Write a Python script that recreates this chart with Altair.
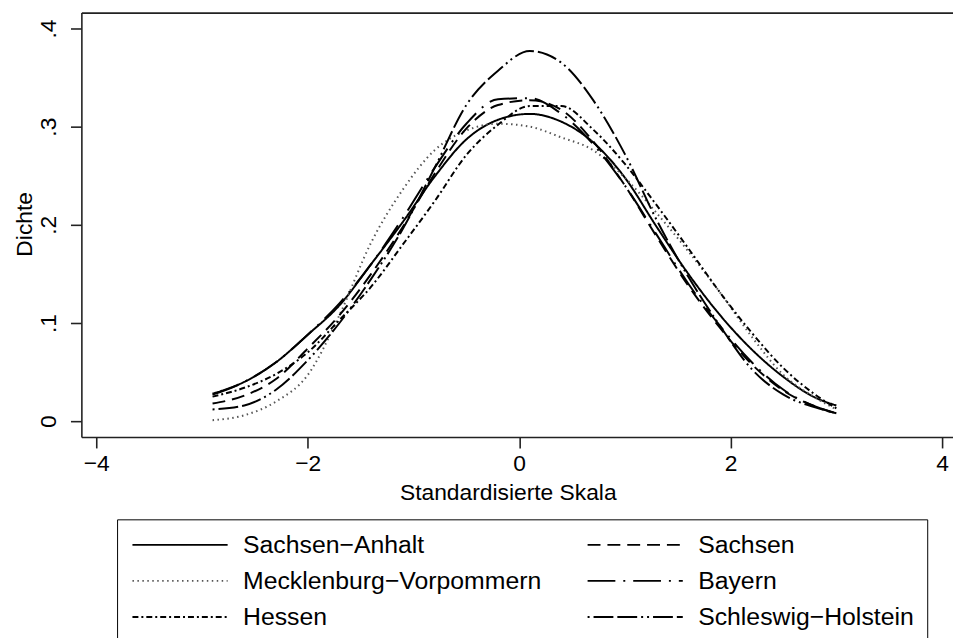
import altair as alt
import pandas as pd

# Standardised scale grid (x) and kernel density estimates (y)
x_vals = [-2.9, -2.6, -2.3, -2.0, -1.7, -1.4, -1.1, -0.8, -0.5, -0.2, 0.1,
          0.4, 0.7, 1.0, 1.3, 1.6, 1.9, 2.2, 2.5, 2.8, 3.0]

sachsen_anhalt = [.028, .040, .060, .088, .118, .160, .203, .249, .287, .307, .313,
                  .305, .284, .248, .198, .150, .108, .073, .045, .024, .016]
sachsen = [.018, .026, .043, .074, .108, .150, .198, .252, .298, .322, .327,
           .317, .285, .240, .188, .138, .095, .058, .031, .015, .008]
mecklenburg = [.001, .006, .020, .047, .108, .182, .236, .276, .296, .303, .300,
               .289, .276, .248, .212, .173, .131, .086, .047, .024, .012]
bayern = [.027, .040, .060, .088, .120, .160, .207, .258, .303, .328, .329,
          .313, .282, .240, .190, .140, .097, .060, .032, .015, .008]
hessen = [.025, .034, .048, .070, .103, .137, .180, .224, .271, .302, .321,
          .321, .297, .262, .220, .176, .131, .090, .054, .027, .013]
schleswig = [.012, .016, .032, .062, .100, .145, .196, .258, .322, .357, .377,
             .365, .327, .272, .205, .147, .097, .053, .027, .014, .008]

# legend is filled column by column: left column first, then right column
names = ["Sachsen−Anhalt", "Mecklenburg−Vorpommern", "Hessen",
         "Sachsen", "Bayern", "Schleswig−Holstein"]
series = [sachsen_anhalt, mecklenburg, hessen, sachsen, bayern, schleswig]
dashes = [[1, 0], [1.5, 3.5], [6, 3, 2, 3],
          [13, 7], [28, 8, 2, 8], [2, 4, 20, 4, 20, 4, 2, 4]]
colors = ["#000000", "#555555", "#000000", "#000000", "#000000", "#000000"]

x_ticks = [-4, -2, 0, 2, 4]
y_ticks = [0, 0.1, 0.2, 0.3, 0.4]

rows = []
for name, vals in zip(names, series):
    for xv, yv in zip(x_vals, vals):
        rows.append({"Land": name, "x": xv, "y": yv})
df = pd.DataFrame(rows)

FONT = "Liberation Sans"
x_scale = alt.Scale(domain=[-4.1407, 4.1031], nice=False, zero=False)
y_scale = alt.Scale(domain=[-0.01616, 0.41616], nice=False, zero=False)

legend = alt.Legend(
    title=None, orient="none", legendX=36, legendY=511, columns=2,
    symbolType="M-1,0H8.6", symbolSize=400, symbolStrokeWidth=1.8,
    labelFont=FONT, labelFontSize=25, labelColor="black", labelOffset=89,
    labelLimit=600, rowPadding=10.5, columnPadding=42, padding=13,
    strokeColor="black", fillColor="white",
)

lines = alt.Chart(df).mark_line(strokeWidth=2, interpolate="monotone").encode(
    x=alt.X("x:Q", scale=x_scale,
            axis=alt.Axis(values=x_ticks, title="Standardisierte Skala",
                          labelBaseline="top", labelPadding=5,
                          titleX=430, titleY=62.5, titleAlign="center",
                          titleBaseline="alphabetic", titleAngle=0)),
    y=alt.Y("y:Q", scale=y_scale,
            axis=alt.Axis(values=y_ticks,
                          labelExpr="datum.value == 0 ? '0' : '.' + round(datum.value*10)",
                          labelAngle=270, labelAlign="center",
                          labelBaseline="alphabetic", labelPadding=15,
                          title="Dichte", titleAngle=270, titleX=-50,
                          titleY=213, titleAlign="center",
                          titleBaseline="alphabetic")),
    strokeDash=alt.StrokeDash("Land:N", scale=alt.Scale(domain=names, range=dashes),
                              legend=legend),
    color=alt.Color("Land:N", scale=alt.Scale(domain=names, range=colors),
                    legend=legend),
    order=alt.Order("x:Q"),
)

frame_top = alt.Chart(df).mark_line(opacity=0).encode(
    x=alt.X("x:Q", scale=x_scale,
            axis=alt.Axis(orient="top", labels=False, ticks=False, title=None,
                          domain=True)),
    y=alt.Y("y:Q", scale=y_scale),
)

chart = alt.layer(lines, frame_top).resolve_axis(x="independent").properties(
    width=879, height=428,
    autosize=alt.AutoSizeParams(type="none"),
    padding={"left": 74, "top": 2, "right": 0, "bottom": 200},
).configure_view(stroke=None).configure_axis(
    grid=False, domainColor="#222222", domainWidth=1.6,
    tickColor="#222222", tickWidth=1.6, tickSize=11,
    labelFont=FONT, titleFont=FONT, labelFontSize=23, titleFontSize=23,
    labelColor="black", titleColor="black", titleFontWeight="normal",
)

chart.save("out.html", embed_options={"renderer": "svg", "actions": False})
